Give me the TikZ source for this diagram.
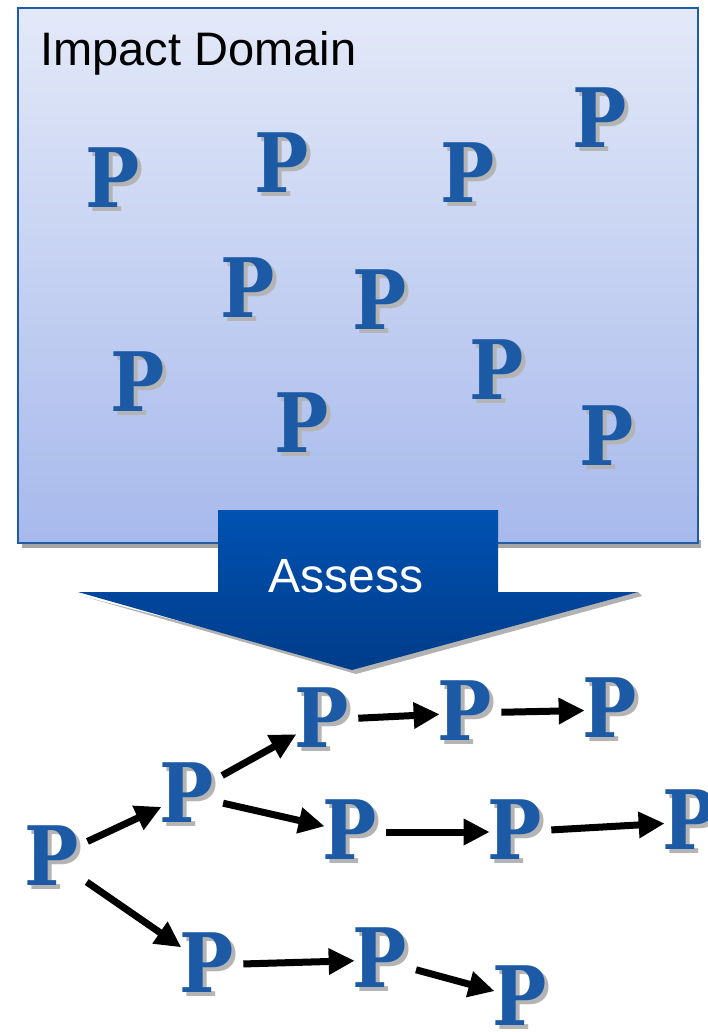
\documentclass[tikz,border=0pt]{standalone}
\usepackage{fontspec}
\setmainfont{Liberation Sans}
\newfontfamily\pfont{DejaVu Serif}[BoldFont={DejaVu Serif Bold}]
\usetikzlibrary{arrows.meta,shadings}
\definecolor{boxtop}{HTML}{E3E9F8}
\definecolor{boxbot}{HTML}{A7B9EC}
\definecolor{boxedge}{HTML}{1F5CA8}
\definecolor{arrtop}{HTML}{0052B2}
\definecolor{arrbot}{HTML}{003C8A}
\definecolor{pblue}{HTML}{1D5AA6}
\definecolor{pshade}{HTML}{B4B4B4}
% a narrowed letter P with a grey drop shadow set behind it
\newcommand\shadedP{\scalebox{0.88}[1]{\rlap{\kern4pt\raisebox{-4pt}{\textcolor{pshade}{P}}}P}}
\tikzset{
  pnode/.style={font=\pfont\bfseries\fontsize{82}{82}\selectfont, text=pblue, inner sep=0pt},
  flow/.style={line width=7pt, -{Triangle[length=26pt,width=25pt]}, shorten <=9pt, shorten >=-2pt},
}
\begin{document}
\begin{tikzpicture}[x=1pt,y=-1pt]
\useasboundingbox (0,0) rectangle (707,1032);
% domain box with its shadow
\fill[gray!70] (22,540) rectangle (701,548);
\shade[top color=boxtop, bottom color=boxbot] (18,8) rectangle (698,543);
\draw[boxedge, line width=2.5pt] (18,8) rectangle (698,543);
\node[anchor=base west, font=\fontsize{47}{47}\selectfont, inner sep=0pt] (title) at (40,66) {Impact Domain};
% scattered items
\foreach \n/\x/\y in {p1/113/180, p2/282/165, p3/468/175, p4/600/120, p5/248/290,
                      p6/380/302, p7/138/384, p8/497/372, p9/302/425, p10/607/438} {
  \node[pnode] (\n) at (\x,\y) {\shadedP};
}
% block arrow
\fill[gray!60] (82,596) -- (356,674) -- (642,596) -- (638,592) -- (352,666) -- cycle;
\shade[top color=arrtop, bottom color=arrbot]
  (218,510) -- (498,510) -- (498,592) -- (638,592) -- (352,670) -- (78,592) -- (218,592) -- cycle;
\node[text=white, font=\fontsize{48}{48}\selectfont] (assess) at (346,576) {Assess};
% ordered items
\foreach \n/\x/\y in {A/52/858, B/187/795, C/322/720, D/465/713, E/610/710,
                      F/350/832, G/515/832, H/690/822, I/207/965, J/380/960, K/520/998} {
  \node[pnode] (\n) at (\x,\y) {\shadedP};
}
\draw[flow] (A) -- (B);
\draw[flow] (B) -- (C);
\draw[flow] (C) -- (D);
\draw[flow] (D) -- (E);
\draw[flow] (B) -- (F);
\draw[flow] (F) -- (G);
\draw[flow] (G) -- (H);
\draw[flow] (A) -- (I);
\draw[flow] (I) -- (J);
\draw[flow] (J) -- (K);
\end{tikzpicture}
\end{document}
